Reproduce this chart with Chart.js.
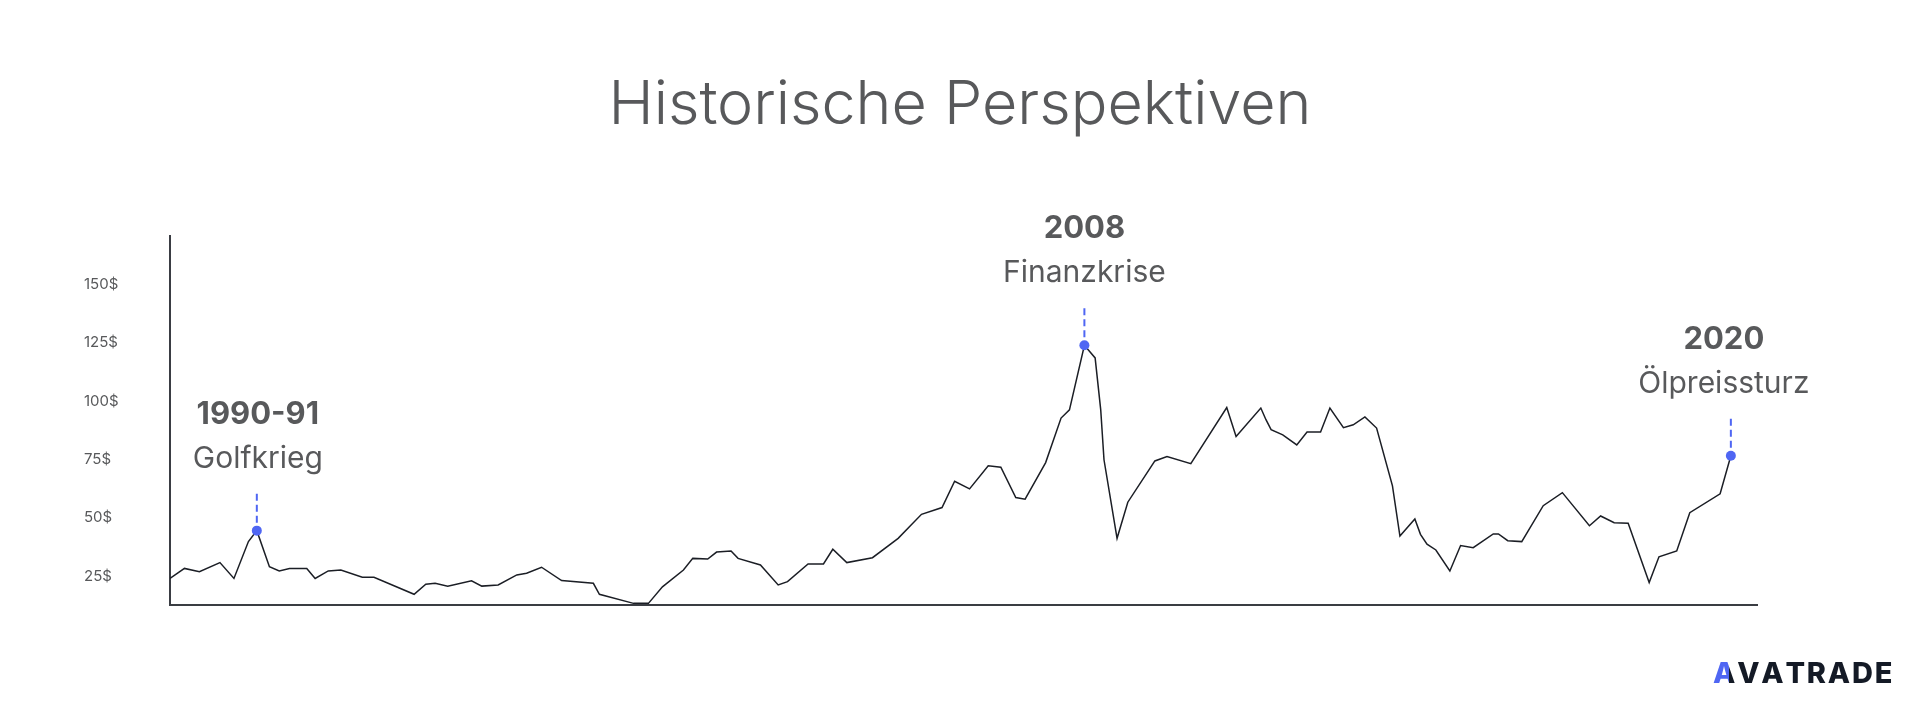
<!DOCTYPE html>
<html>
<head>
<meta charset="utf-8">
<title>Historische Perspektiven</title>
<script src="https://cdn.jsdelivr.net/npm/chart.js@4.4.1/dist/chart.umd.min.js"></script>
<style>
  html, body { margin: 0; padding: 0; background: #fff; }
  #box { position: relative; width: 1920px; height: 712px; }
</style>
</head>
<body>
<div id="box"><canvas id="grafico"></canvas></div>
<script>
// dados (ano, preco em $)
const anos = [
  1989.00, 1989.31, 1989.63, 1990.07, 1990.37, 1990.68, 1990.86, 1991.13, 1991.34, 1991.56,
  1991.93, 1992.11, 1992.39, 1992.66, 1993.12, 1993.37, 1994.23, 1994.48, 1994.68, 1994.95,
  1995.46, 1995.68, 1996.03, 1996.43, 1996.64, 1996.96, 1997.39, 1998.07, 1998.20, 1998.93,
  1999.25, 1999.55, 2000.00, 2000.20, 2000.52, 2000.71, 2001.02, 2001.17, 2001.65, 2002.03,
  2002.23, 2002.67, 2003.00, 2003.20, 2003.50, 2004.05, 2004.60, 2005.10, 2005.54, 2005.81,
  2006.13, 2006.53, 2006.80, 2007.12, 2007.32, 2007.76, 2008.09, 2008.27, 2008.59, 2008.82,
  2008.94, 2009.01, 2009.29, 2009.52, 2010.10, 2010.36, 2010.87, 2011.64, 2011.84, 2012.37,
  2012.48, 2012.59, 2012.84, 2013.14, 2013.36, 2013.65, 2013.85, 2014.14, 2014.35, 2014.60,
  2014.85, 2015.19, 2015.35, 2015.67, 2015.79, 2015.93, 2016.12, 2016.42, 2016.65, 2016.92,
  2017.35, 2017.46, 2017.66, 2017.96, 2018.42, 2018.83, 2019.41, 2019.65, 2019.94, 2020.24,
  2020.69, 2020.90, 2021.28, 2021.56, 2022.21, 2022.44
]
const precos = [
  23.1, 27.4, 26.0, 29.9, 23.1, 38.9, 43.6, 28.1, 26.3, 27.4,
  27.4, 23.1, 26.3, 26.7, 23.6, 23.6, 16.3, 20.6, 21.0, 19.8,
  22.1, 19.8, 20.3, 24.6, 25.3, 27.9, 22.2, 21.0, 16.3, 12.4,
  12.4, 19.5, 26.7, 31.7, 31.4, 34.4, 34.9, 31.7, 28.9, 20.3,
  21.7, 29.3, 29.3, 35.6, 29.9, 32.0, 40.3, 50.6, 53.5, 64.8,
  61.5, 71.4, 70.8, 57.8, 57.1, 72.8, 91.9, 95.4, 123.1, 117.7,
  95.4, 74.0, 40.3, 55.8, 73.5, 75.4, 72.3, 96.4, 84.0, 96.2,
  91.2, 86.9, 84.7, 80.4, 85.9, 85.9, 96.2, 87.8, 89.0, 92.4,
  87.6, 62.8, 41.3, 48.6, 42.0, 37.8, 35.3, 26.3, 37.2, 36.3,
  42.2, 42.2, 39.3, 38.9, 54.3, 59.9, 45.7, 49.9, 47.0, 46.8,
  21.3, 32.4, 34.9, 51.3, 59.4, 75.7
]
const ticksY = [25, 50, 75, 100, 125, 150]

// eventos marcados (indice do ponto na serie)
const eventoPontos = [6, 58, 105]
const eventoAnos = ['1990-91', '2008', '2020']
const eventoNomes = ['Golfkrieg', 'Finanzkrise', 'Ölpreissturz']
const eventoDx = [1, 0, -7]

const titulo = 'Historische Perspektiven'
const marca = 'AVATRADE'

const azul = '#4f66f3'
const cinza = '#58595b'

Chart.defaults.font.family = 'Inter'

let raios = precos.map((v, i) => eventoPontos.includes(i) ? 5 : 0)

// plugin que escreve titulo, eventos e a marca
const textos = {
  id: 'textos',
  afterDatasetsDraw(chart) {
    const ctx = chart.ctx
    const pontos = chart.getDatasetMeta(0).data
    ctx.save()

    ctx.fillStyle = cinza
    ctx.textAlign = 'center'
    ctx.textBaseline = 'alphabetic'
    ctx.font = '300 61px Inter'
    ctx.fillText(titulo, 960, 124)

    eventoPontos.forEach((idx, n) => {
      const p = pontos[idx]
      // linha tracejada acima do ponto
      ctx.strokeStyle = azul
      ctx.lineWidth = 2
      ctx.setLineDash([7, 4])
      ctx.beginPath()
      ctx.moveTo(p.x, p.y - 37)
      ctx.lineTo(p.x, p.y - 3)
      ctx.stroke()
      ctx.setLineDash([])

      ctx.fillStyle = cinza
      ctx.font = '700 31px Inter'
      ctx.fillText(eventoAnos[n], p.x + eventoDx[n], p.y - 107)
      ctx.font = '400 30px Inter'
      ctx.fillText(eventoNomes[n], p.x + eventoDx[n], p.y - 63)
    })

    // marca no canto
    ctx.font = '800 29px Inter'
    ctx.textAlign = 'left'
    let w = ctx.measureText(marca).width
    let esp = (172 - w) / (marca.length - 1)
    let x = 1885 - 172
    let grad = ctx.createLinearGradient(x, 0, x + 40, 0)
    grad.addColorStop(0, azul)
    grad.addColorStop(0.4, azul)
    grad.addColorStop(0.41, '#141a26')
    grad.addColorStop(1, '#141a26')
    for (let i = 0; i < marca.length; i++) {
      ctx.fillStyle = i < 1 ? grad : '#141a26'
      ctx.fillText(marca[i], x, 683)
      x += ctx.measureText(marca[i]).width + esp
    }
    ctx.restore()
  }
}

const ctx = document.getElementById('grafico').getContext('2d')
const grafico = new Chart(ctx, {
  type: 'line',
  data: {
    datasets: [{
      data: anos.map((a, i) => ({ x: a, y: precos[i] })),
      borderColor: '#1b1e25',
      borderWidth: 1.5,
      tension: 0,
      fill: false,
      pointRadius: raios,
      pointHoverRadius: raios,
      pointBackgroundColor: azul,
      pointBorderWidth: 0
    }]
  },
  options: {
    responsive: true,
    maintainAspectRatio: false,
    animation: false,
    devicePixelRatio: 1,
    layout: { padding: { left: 84, right: 163, top: 236, bottom: 107 } },
    plugins: {
      legend: { display: false },
      tooltip: { enabled: false },
      title: { display: false }
    },
    scales: {
      x: {
        type: 'linear',
        min: 1989,
        max: 2023,
        grid: { display: false, drawTicks: false },
        ticks: { display: false },
        border: { display: true, color: '#3a3d43', width: 2 },
        afterFit: s => { s.height = 0 }
      },
      y: {
        min: 11.7,
        max: 170,
        grid: { display: false, drawTicks: false },
        border: { display: true, color: '#3a3d43', width: 2 },
        afterBuildTicks: s => { s.ticks = ticksY.map(v => ({ value: v })) },
        afterFit: s => { s.width = 86 },
        ticks: {
          crossAlign: 'far',
          labelOffset: 2,
          color: cinza,
          font: { size: 15 },
          callback: v => v + '$'
        }
      }
    }
  },
  plugins: [textos]
})
</script>
</body>
</html>
